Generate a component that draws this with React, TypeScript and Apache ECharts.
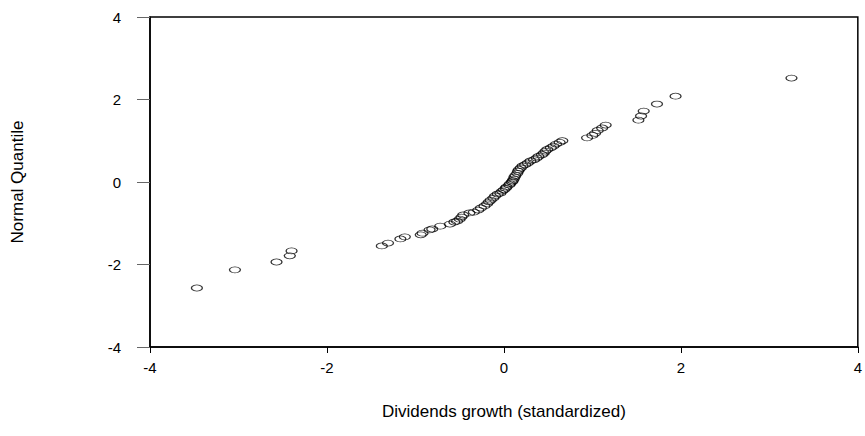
import React, { useEffect, useRef } from "react";
import * as echarts from "echarts";

// standardized dividends growth (x) vs normal quantile (y)
const xValues = [
  -3.47, -3.04, -2.57, -2.42, -2.4, -1.38, -1.31, -1.17, -1.12, -0.94,
  -0.92, -0.84, -0.81, -0.72, -0.61, -0.56, -0.53, -0.5, -0.48, -0.46,
  -0.39, -0.34, -0.29, -0.26, -0.22, -0.19, -0.17, -0.15, -0.12, -0.1,
  -0.07, -0.04, -0.02, 0.0, 0.02, 0.03, 0.06, 0.07, 0.09, 0.1,
  0.11, 0.12, 0.13, 0.15, 0.16, 0.17, 0.19, 0.21, 0.24, 0.27,
  0.3, 0.34, 0.37, 0.39, 0.43, 0.45, 0.47, 0.49, 0.53, 0.56,
  0.59, 0.63, 0.66, 0.94, 1.0, 1.03, 1.06, 1.11, 1.15, 1.52,
  1.55, 1.58, 1.73, 1.94, 3.25,
];
const yValues = [
  -2.57, -2.13, -1.94, -1.79, -1.67, -1.55, -1.48, -1.38, -1.33, -1.28,
  -1.24, -1.16, -1.14, -1.07, -1.02, -0.97, -0.95, -0.9, -0.85, -0.8,
  -0.75, -0.73, -0.68, -0.63, -0.58, -0.53, -0.48, -0.44, -0.39, -0.34,
  -0.29, -0.27, -0.22, -0.19, -0.15, -0.12, -0.07, -0.04, 0.0, 0.03,
  0.07, 0.12, 0.16, 0.21, 0.26, 0.3, 0.34, 0.39, 0.42, 0.46,
  0.51, 0.54, 0.58, 0.62, 0.66, 0.7, 0.75, 0.79, 0.83, 0.87,
  0.92, 0.96, 1.0, 1.07, 1.13, 1.18, 1.25, 1.31, 1.38, 1.5,
  1.6, 1.72, 1.89, 2.08, 2.52,
];
const xTicks = [-4, -2, 0, 2, 4];
const yTicks = [-4, -2, 0, 2, 4];
const xName = "Dividends growth (standardized)";
const yName = "Normal Quantile";

export default function App() {
  const ref = useRef<HTMLDivElement>(null);
  useEffect(() => {
    if (!ref.current) return;
    const chart = echarts.init(ref.current, undefined, { renderer: "svg" });
    const data = xValues.map((x, i) => [x, yValues[i]]);
    const font = "'Liberation Sans', Arial, sans-serif";
    chart.setOption({
      animation: false,
      backgroundColor: "#ffffff",
      grid: {
        left: 150,
        width: 714,
        top: 17,
        bottom: 89,
        show: true,
        borderColor: "#000",
        borderWidth: 1.5,
      },
      xAxis: {
        type: "value",
        min: xTicks[0],
        max: xTicks[xTicks.length - 1],
        interval: 2,
        name: xName,
        nameLocation: "middle",
        nameGap: 56,
        nameTextStyle: { color: "#000", fontSize: 17, fontFamily: font },
        axisLine: { show: true, onZero: false, lineStyle: { color: "#000", width: 1.5 } },
        axisTick: { show: true, inside: false, length: 6, lineStyle: { color: "#000" } },
        axisLabel: { color: "#000", fontSize: 15, fontFamily: font, margin: 13 },
        splitLine: { show: false },
      },
      yAxis: {
        type: "value",
        min: yTicks[0],
        max: yTicks[yTicks.length - 1],
        interval: 2,
        name: yName,
        nameLocation: "middle",
        nameGap: 124,
        nameRotate: 90,
        nameTextStyle: { color: "#000", fontSize: 17, fontFamily: font },
        axisLine: { show: true, onZero: false, lineStyle: { color: "#000", width: 1.5 } },
        axisTick: { show: true, inside: false, length: 13, lineStyle: { color: "#666" } },
        axisLabel: { color: "#000", fontSize: 15, fontFamily: font, margin: 29 },
        splitLine: { show: false },
      },
      series: [
        {
          type: "scatter",
          data,
          symbol: "circle",
          symbolSize: [11, 6],
          itemStyle: { color: "rgba(255,255,255,0)", borderColor: "#000", borderWidth: 1 },
        },
      ],
    });
    return () => chart.dispose();
  }, []);
  return <div ref={ref} style={{ width: 865, height: 436, position: "fixed", left: 0, top: 0 }} />;
}
